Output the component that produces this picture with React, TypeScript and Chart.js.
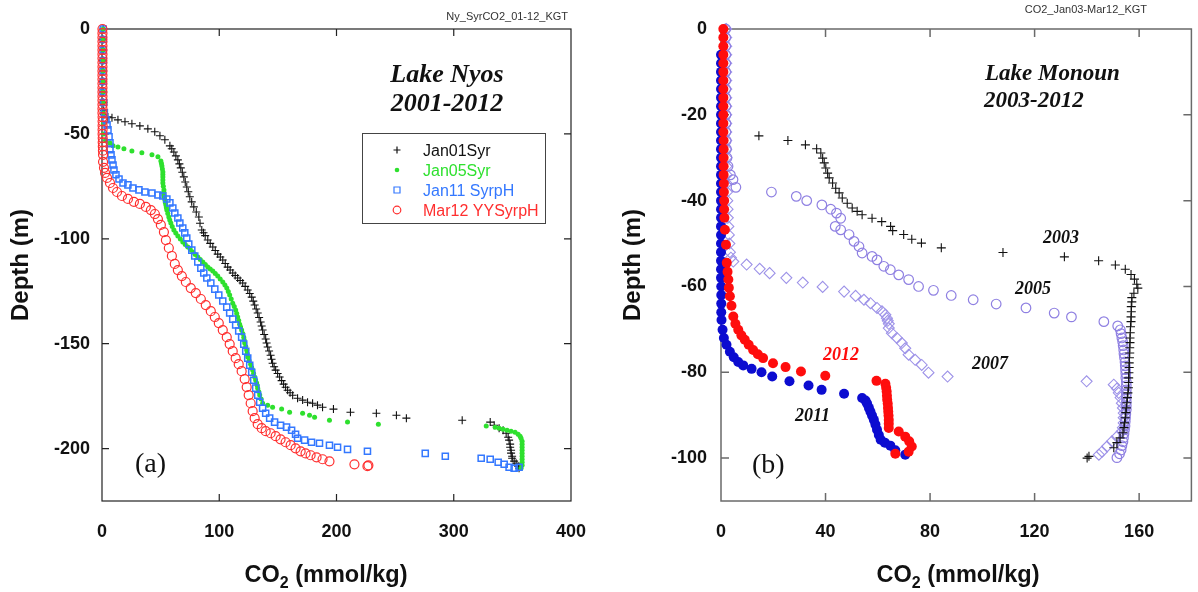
import React, { useEffect, useRef } from "react";
import { Chart, registerables } from "chart.js";

Chart.register(...registerables);

// ---------------- Panel (a): Lake Nyos ----------------
const nyosXTicks = [0, 100, 200, 300, 400];
const nyosYTicks = [0, -50, -100, -150, -200];
const nyosLegend = ["Jan01Syr", "Jan05Syr", "Jan11 SyrpH", "Mar12 YYSyrpH"];

const jan01Syr = [
  [1, 0], [1, -5], [1, -10], [1, -15], [1, -20], [1, -25], [1, -30], [1.2, -35], [1.5, -39],
  [1.7, -40.9], [5, -41.9], [8.5, -42.3], [13.6, -43.3], [19.6, -44.2], [25.5, -45.2], [32.3, -46.2],
  [39.1, -47.6], [45, -49], [49.4, -50.9], [53.6, -52.8], [57.9, -55.7], [59.5, -57.1], [61.3, -58.6],
  [63, -60.5], [64.7, -62.4], [66, -64.3], [67.2, -66.2], [68.5, -68.3], [69.8, -70.5], [71, -72.9],
  [72.3, -75.3], [73.6, -77.6], [74.9, -80], [76.5, -82.4], [78.3, -84.8], [80.4, -87.2], [82.6, -89.6],
  [83.6, -92.6], [85.1, -95.8], [86.6, -97.1], [88, -98.5], [90.2, -100.6], [92.3, -102.2], [94.5, -103.9],
  [96.6, -105.6], [98.7, -107.3], [100.9, -108.7], [103, -110.1], [105.1, -111.8], [107.2, -113.5],
  [109.3, -114.9], [111.5, -116.3], [113.6, -117.5], [115.7, -118.7], [117.8, -119.9], [120, -121.1],
  [122.1, -122.7], [124.3, -124.4], [126, -126.1], [127.7, -127.8], [129, -129.7], [130.2, -131.6],
  [131.5, -133.5], [132.8, -135.4], [134, -137.5], [135.3, -139.7], [136.2, -141.6], [137, -143.5],
  [138.3, -145.6], [139.6, -147.8], [140.4, -149.7], [141.3, -151.6], [142.5, -153.5], [143.8, -155.5],
  [144.6, -157.4], [145.5, -159.3], [146.8, -161], [148.1, -162.6], [149.8, -164.2], [151.5, -165.9],
  [153.2, -167.6], [154.9, -169.3], [156.6, -170.8], [158.3, -172.2], [160.4, -173.4], [162.6, -174.6],
  [166.8, -176], [171.1, -176.9], [175.3, -177.9], [179.6, -178.4], [183.8, -179.3], [188.1, -180.3],
  [197.4, -181.2], [211.9, -182.7], [234, -183.2], [251.1, -184.1], [259.6, -185.5], [307.2, -186.5],
  [331.1, -187.4], [334.5, -188.9], [338.7, -190.3], [342.1, -191.3], [344.7, -192.7], [346.4, -194.6],
  [347.2, -196], [348.1, -197.9], [348.1, -199.4], [348.9, -200.8], [348.9, -202.2], [349.8, -203.7],
  [349.8, -204.6], [351.5, -206], [353.2, -207], [354.9, -208.4], [355.7, -209.4],
];

const jan05Syr = [
  [1, 0], [1, -5], [1, -10], [1, -15], [1, -20], [1, -25], [1, -30], [1, -35], [1, -40], [1.2, -45],
  [1.5, -50], [3, -53], [6.8, -54.3], [9.4, -55.7], [13.6, -56.2], [18.7, -57.1], [25.5, -58.1], [34, -59],
  [42.6, -60], [47.7, -60.9], [50.2, -62.9], [50.7, -64.1], [51.1, -65.3], [51.5, -66.7], [51.9, -68.2],
  [51.9, -69.4], [51.9, -70.5], [51.9, -72], [51.9, -73.4], [52.3, -75], [52.8, -76.7], [52.8, -77.9],
  [52.8, -79.1], [53.2, -80.3], [53.6, -81.5], [54, -82.7], [54.5, -83.9], [54.9, -85.1], [55.3, -86.3],
  [56.1, -88], [57, -89.6], [57.8, -91], [58.7, -92.5], [59.9, -94.1], [61.3, -95.8], [62.9, -97.2],
  [64.7, -98.7], [66.8, -100.1], [68.9, -101.5], [71, -102.7], [73.2, -103.9], [75.3, -105.1],
  [77.4, -106.3], [79.5, -107.5], [81.7, -108.7], [83.8, -109.9], [86, -111.1], [88.1, -112.3],
  [90.2, -113.5], [92.3, -114.4], [94.5, -115.4], [96.6, -116.6], [98.7, -117.8], [100.8, -119.2],
  [103, -120.6], [104.8, -122], [106.4, -123.5], [107.7, -125.1], [108.9, -126.8], [110.2, -128.7],
  [111.5, -130.7], [112.8, -132.3], [114, -134], [114.9, -135.6], [115.7, -137.3], [116.6, -139],
  [117.4, -140.7], [118.2, -142.1], [119.1, -143.5], [120, -145.2], [120.9, -146.9], [121.3, -148.3],
  [121.7, -149.7], [122.6, -151.3], [123.4, -153], [123.8, -154.7], [124.3, -156.4], [125.5, -158.1],
  [126.8, -159.8], [127.6, -161.2], [128.5, -162.6], [129.3, -164.2], [130.2, -165.9], [131, -167.3],
  [131.9, -168.8], [132.4, -170], [132.8, -171.2], [133.6, -172.8], [134.5, -174.5], [135.7, -176.4],
  [137, -178.4], [141.3, -179.3], [145.5, -180.3], [153.2, -181.2], [160, -182.7], [171.1, -183.2],
  [177, -184.1], [181.3, -185.1], [194, -186.5], [209.4, -187.4], [235.7, -188.4], [327.7, -189.3],
  [335.3, -189.8], [338.7, -190.3], [342.1, -190.8], [345.5, -191.3], [348.9, -191.7], [352.3, -192.2],
  [354.9, -193.2], [356.6, -194.1], [357.4, -195.1], [358.3, -196.5], [358.3, -198], [358.3, -199.4],
  [358.3, -200.8], [358.3, -202.2], [358.3, -203.7], [358.3, -205.1], [358.3, -206.5], [358.3, -208],
  [357.4, -209.4],
];

const jan11SyrpH = [
  [1, 0], [1, -5], [1, -10], [1, -15], [1, -20], [1, -25], [1, -30], [1.5, -35], [2, -40],
  [3.4, -43.3], [4.3, -45.7], [5.1, -48.1], [6, -51.4], [6.8, -54.3], [6.8, -57.6], [7.7, -60], [8.5, -62.4],
  [9.4, -64.8], [10.2, -67.2], [11.9, -69.5], [14.5, -71.5], [17.9, -73.4], [22.1, -74.3], [26.4, -75.8],
  [31.5, -76.7], [36.6, -77.7], [42.6, -78.2], [47.7, -79.1], [51.9, -79.6], [55.3, -81], [57.9, -82.9],
  [60.4, -85.3], [62.1, -87.7], [64.7, -90.1], [66.4, -92.5], [68.9, -94.9], [70.6, -97.2], [72.3, -99.6],
  [74, -102.5], [76.6, -105.4], [79.1, -108.2], [81.7, -111.1], [84.3, -114], [86.8, -116.3],
  [89.4, -118.7], [92.8, -121.1], [96.2, -124], [99.6, -126.8], [103, -129.7], [106.4, -132.6],
  [108.9, -135.4], [111.5, -138.3], [114, -141.1], [116.6, -144], [119.1, -146.9], [120.9, -150.2],
  [122.6, -153.6], [124.3, -156.9], [126, -160.3], [127.7, -163.6], [129.4, -167.4], [131.1, -171.2],
  [132.8, -174.6], [134.5, -177.9], [137, -180.8], [139.6, -183.2], [143, -185.5], [147.2, -187.4],
  [152.3, -188.9], [157.4, -189.8], [161.7, -191.3], [165.1, -193.2], [166.8, -195.1], [172.8, -196],
  [178.7, -197], [185.5, -197.5], [194, -198.4], [200.9, -199.4], [209.4, -200.4], [226.4, -201.3],
  [275.7, -202.3], [292.8, -203.7], [323.4, -204.6], [331.1, -205.1], [337.9, -206.5], [343, -207.5],
  [347.2, -208.9], [351.5, -209.4], [355.7, -208.9],
];

const mar12YYSyrpH = [
  [0.4, 0], [0.4, -2], [0.4, -4], [0.4, -6], [0.4, -8], [0.4, -10], [0.4, -12], [0.4, -14], [0.4, -16],
  [0.4, -18], [0.4, -20], [0.4, -22], [0.4, -24], [0.4, -26], [0.4, -28], [0.4, -30], [0.4, -32],
  [0.4, -34], [0.4, -36], [0.4, -38], [0.4, -40], [0.5, -42], [0.5, -44], [0.5, -46], [0.5, -48],
  [0.5, -50], [0.6, -52], [0.6, -54], [0.7, -56], [0.8, -58],
  [0.9, -60], [0.9, -63.3], [1.7, -66.2], [2.6, -68.6], [4.3, -71], [6.8, -73.4], [9.4, -75.8],
  [12.8, -77.7], [17, -79.6], [22.1, -81], [27.2, -82.4], [32.3, -83.4], [37.4, -84.8], [41.7, -86.3],
  [45.1, -88.2], [47.7, -90.6], [50.2, -93.4], [52.8, -96.8], [54.5, -100.6], [57, -104.4], [59.6, -108.2],
  [62.1, -112], [64.7, -114.9], [68.1, -117.8], [71.5, -120.6], [75.7, -123.5], [80, -125.9],
  [84.3, -128.7], [88.5, -131.6], [92.8, -134.5], [96.2, -137.3], [99.6, -140.2], [103, -143.5],
  [106.4, -146.9], [108.9, -150.2], [111.5, -153.6], [114, -156.9], [116.6, -159.8], [119.1, -163.1],
  [121.7, -166.9], [123.4, -170.7], [125.1, -174.5], [126.8, -178.4], [128.5, -182.2], [130.2, -185.5],
  [132.8, -188.4], [136.2, -190.3], [139.6, -191.7], [143.8, -192.7], [148.1, -194.1], [152.3, -195.6],
  [156.6, -197], [160.9, -198.4], [165.1, -199.9], [169.4, -201.3], [173.6, -202.3], [177.9, -203.2],
  [183, -204.2], [188.1, -205.1], [194, -206.1], [215.3, -207.5], [226.4, -208.4], [227.2, -208],
];

// ---------------- Panel (b): Lake Monoun ----------------
const monounXTicks = [0, 40, 80, 120, 160];
const monounYTicks = [0, -20, -40, -60, -80, -100];

const monoun2003 = [
  [14.5, -24.9], [25.6, -26], [32.3, -27], [36.6, -27.9], [38.2, -28.9], [38.9, -30.1], [39.5, -31.2],
  [40.1, -32.4], [40.8, -33.6], [41.4, -34.7], [42.7, -35.9], [43.9, -37.1], [45.2, -38.2], [46.4, -39.4],
  [48.3, -40.6], [50.2, -41.7], [52.1, -42.5], [54, -43.3], [57.8, -44.1], [61.5, -44.9], [64.9, -46],
  [65.7, -47], [69.9, -47.9], [73, -49], [76.7, -49.9], [84.3, -51], [107.9, -52.1], [131.4, -53.1],
  [144.5, -54], [150.9, -55], [154.7, -56], [156.9, -57.2], [158.2, -58.3], [159.1, -59.5], [159.5, -60.4],
  [158, -61.6], [157.2, -62.6], [157.2, -63.6], [157, -64.7], [157, -65.9], [156.9, -67.1], [156.9, -68.2],
  [156.7, -69.4], [156.6, -70.8], [156.5, -72], [156.5, -73.1], [156.4, -74.3], [156.4, -75.5],
  [156.3, -76.6], [156.2, -77.8], [156.2, -78.9], [156.1, -80.1], [156, -81.3], [156, -82.4],
  [155.9, -83.6], [155.7, -84.8], [155.5, -85.9], [155.3, -87.1], [155.1, -88.3], [154.9, -89.4],
  [154.7, -90.6], [154.4, -91.8], [154.2, -92.9], [153.8, -94.1], [152.7, -95.3], [151.5, -96.4],
  [150.3, -97.6], [140.8, -99.6], [140.1, -100],
];

const monoun2005 = [
  [1.8, 0], [1.8, -2], [1.8, -4], [1.8, -6], [1.8, -8], [1.8, -10], [1.8, -12], [1.8, -14], [1.8, -16],
  [1.9, -18], [1.9, -20], [1.9, -22], [1.9, -24], [2, -26], [2.1, -28], [2.3, -30], [2.7, -32],
  [3.6, -34], [4.6, -35.1], [5.7, -36.9], [19.3, -38], [28.8, -39], [32.8, -40], [38.6, -41], [42, -42],
  [44.2, -42.9], [45.8, -44.1], [43.7, -46], [45.8, -46.8], [49, -47.9], [50.9, -49.5], [52.8, -50.7],
  [54, -52.2], [57.8, -53], [59.7, -53.8], [62.3, -55.3], [64.8, -56.1], [68, -57.3], [71.8, -58.4],
  [75.6, -60], [81.3, -60.9], [88.1, -62.1], [96.5, -63.1], [105.3, -64.1], [116.7, -65], [127.5, -66.2],
  [134.1, -67.1], [146.5, -68.2], [151.8, -69.2], [152.8, -70.1], [153.1, -71], [153.4, -72],
  [153.7, -72.9], [153.9, -73.8], [154.1, -74.8], [154.2, -75.7], [154.4, -76.6], [154.6, -77.6],
  [154.7, -78.5], [154.8, -79.4], [154.9, -80.3], [154.9, -81.3], [155.1, -82.2], [155.1, -83.1],
  [155.1, -84.1], [155.1, -85], [155.1, -85.9], [155.1, -86.9], [155.1, -87.8], [155.1, -88.7],
  [154.9, -89.7], [154.8, -90.6], [154.7, -91.5], [154.6, -92.5], [154.4, -93.4], [154.2, -94.3],
  [154, -95.3], [153.8, -96.2], [153.4, -97.1], [153.1, -98.1], [152.5, -99], [151.5, -99.9],
];

const monoun2007 = [
  [2, 0], [2, -2], [2, -4], [2, -6], [2, -8], [2, -10], [2, -12], [2, -14], [2, -16],
  [2, -18], [2, -20], [2, -22], [2, -24], [2, -26], [2, -28], [2.1, -30], [2.1, -32],
  [2.2, -34], [2.2, -36], [2.3, -38], [2.4, -40], [2.5, -42], [2.6, -44], [2.8, -46], [3, -48],
  [3.2, -50], [3.4, -52],
  [3.8, -53.3], [4.7, -54.2], [9.8, -54.9], [14.8, -55.9], [18.6, -56.9], [25, -58], [31.3, -59.1],
  [38.9, -60.1], [47.1, -61.2], [51.5, -62.2], [54.7, -63.1], [57.2, -63.9], [59.7, -65], [61.6, -65.8],
  [62.9, -66.6], [63.5, -67.4], [63.8, -68], [64.2, -68.7], [64.2, -69.7], [65.4, -70.9], [67.3, -72],
  [69.2, -73.2], [70.5, -74.4], [71.8, -75.9], [74.3, -77.1], [76.8, -78.3], [79.4, -80.1], [86.7, -81],
  [139.9, -82.1], [150.3, -82.9], [151.5, -83.8], [152.2, -84.8], [152.9, -85.9], [153.4, -87.2],
  [153.8, -88.3], [154.1, -89.5], [154.1, -90.6], [154.1, -91.8], [153.8, -92.9], [153.4, -93.8],
  [151.5, -95], [149.6, -96.1], [147.7, -97.3], [145.8, -98.5], [144.6, -99.2],
];

const monoun2011 = [
  [0, -6], [0, -8], [0, -10], [0, -12], [0, -14], [0, -16], [0, -18], [0, -20], [0, -22], [0, -24],
  [0, -26], [0, -28], [0, -30], [0, -32], [0, -34], [0, -36], [0, -38], [0, -40], [0, -42], [0, -44],
  [0, -46], [0, -48], [0, -50], [0, -52], [0, -54], [0, -56], [0, -58], [0.1, -60], [0.1, -62],
  [0.1, -64], [0.1, -66],
  [0.2, -67.8], [0.6, -70.1], [1.1, -72], [2.1, -73.6], [3.4, -75.2], [4.9, -76.5], [6.6, -77.6],
  [8.5, -78.4], [11.7, -79.2], [15.5, -80], [19.6, -81], [26.2, -82.1], [33.5, -83.1], [38.5, -84.1],
  [47.1, -85], [54, -86], [55.3, -86.6], [55.9, -87.3], [56.6, -88.3], [57.2, -89.2], [57.8, -90.1],
  [58.5, -91.1], [59.1, -92.2], [59.7, -93.4], [60.4, -94.6], [61.1, -95.7], [62.7, -96.4],
  [64.8, -97.1], [66.7, -98.2], [70.5, -99.2],
];

const monoun2012 = [
  [0.9, 0], [0.9, -2], [0.9, -4], [0.9, -6], [0.9, -8], [0.9, -10], [0.9, -12], [0.9, -14], [0.9, -16],
  [0.9, -18], [0.9, -20], [0.9, -22], [0.9, -24], [1, -26], [1, -28], [1, -30], [1, -32], [1, -34],
  [1.1, -36], [1.1, -38], [1.2, -40], [1.2, -42], [1.3, -44],
  [1.5, -46.8], [1.9, -50.3], [2.2, -54.5], [2.5, -56.6], [2.8, -58.4], [3, -60.3], [3.4, -62.3],
  [4, -64.5], [4.7, -67], [5.5, -68.7], [6.6, -70.1], [7.8, -71.4], [9.1, -72.4], [10.6, -73.6],
  [12.3, -74.8], [14.1, -75.8], [16.1, -76.7], [19.9, -77.9], [24.7, -78.8], [30.6, -79.8], [39.9, -80.8],
  [59.5, -82], [62.9, -82.7], [63.2, -83.6], [63.4, -84.5], [63.5, -85.5], [63.6, -86.4], [63.8, -87.3],
  [63.9, -88.3], [64, -89.2], [64.1, -90.1], [64.2, -91.1], [64.2, -92], [64.2, -93], [68, -93.8],
  [70.5, -95], [72, -96.1], [73, -97.3], [71.8, -98.5], [66.7, -99],
];

// ---------------- helpers ----------------
const SANS = '"Liberation Sans", Arial, Helvetica, sans-serif';
const SERIF = '"Liberation Serif", "Times New Roman", serif';

const toPts = (arr: number[][]) => arr.map(([x, y]) => ({ x, y }));

function drawCO2Title(ctx: CanvasRenderingContext2D, cx: number, baseline: number) {
  const big = `bold 23.5px ${SANS}`;
  const small = `bold 16px ${SANS}`;
  ctx.font = big;
  const w1 = ctx.measureText("CO").width;
  const w3 = ctx.measureText(" (mmol/kg)").width;
  ctx.font = small;
  const w2 = ctx.measureText("2").width;
  let x = cx - (w1 + w2 + w3) / 2;
  ctx.fillStyle = "#111";
  ctx.textAlign = "left";
  ctx.textBaseline = "alphabetic";
  ctx.font = big;
  ctx.fillText("CO", x, baseline);
  x += w1;
  ctx.font = small;
  ctx.fillText("2", x, baseline + 6);
  x += w2;
  ctx.font = big;
  ctx.fillText(" (mmol/kg)", x, baseline);
}

function drawDepthTitle(ctx: CanvasRenderingContext2D, cx: number, cy: number) {
  ctx.save();
  ctx.translate(cx, cy);
  ctx.rotate(-Math.PI / 2);
  ctx.font = `bold 24px ${SANS}`;
  ctx.fillStyle = "#111";
  ctx.textAlign = "center";
  ctx.textBaseline = "middle";
  ctx.fillText("Depth (m)", 0, 0);
  ctx.restore();
}

function text(ctx: CanvasRenderingContext2D, s: string, x: number, y: number, font: string, color: string, align: CanvasTextAlign = "left") {
  ctx.font = font;
  ctx.fillStyle = color;
  ctx.textAlign = align;
  ctx.textBaseline = "alphabetic";
  ctx.fillText(s, x, y);
}

function makeDecor(cfg: any) {
  return {
    id: "decor",
    beforeDatasetsDraw(chart: any) {
      const { ctx, chartArea: a, scales } = chart;
      ctx.save();
      ctx.strokeStyle = cfg.frameColor;
      ctx.lineWidth = cfg.frameWidth;
      ctx.strokeRect(a.left, a.top, a.right - a.left, a.bottom - a.top);
      ctx.beginPath();
      const L = cfg.tickLen;
      for (const v of cfg.xTicks) {
        const p = scales.x.getPixelForValue(v);
        ctx.moveTo(p, a.top);
        ctx.lineTo(p, a.top + L);
        ctx.moveTo(p, a.bottom);
        ctx.lineTo(p, a.bottom - L);
      }
      for (const v of cfg.yTicks) {
        const p = scales.y.getPixelForValue(v);
        ctx.moveTo(a.left, p);
        ctx.lineTo(a.left + L, p);
        ctx.moveTo(a.right, p);
        ctx.lineTo(a.right - L, p);
      }
      ctx.stroke();
      ctx.restore();
    },
    afterDraw(chart: any) {
      const ctx = chart.ctx;
      ctx.save();
      cfg.draw(ctx, chart);
      ctx.restore();
    },
  };
}

function baseOptions(xMin: number, xMax: number, yMin: number, yMax: number, xTicks: number[], yTicks: number[], yWidth: number, pad: any, yPad: number) {
  const tickFont = { family: SANS, size: 18, weight: "bold" as const };
  return {
    animation: false as const,
    responsive: false,
    devicePixelRatio: 1,
    layout: { padding: pad },
    plugins: { legend: { display: false }, tooltip: { enabled: false } },
    events: [],
    scales: {
      x: {
        type: "linear" as const,
        min: xMin,
        max: xMax,
        afterBuildTicks: (s: any) => { s.ticks = xTicks.map((v) => ({ value: v })); },
        afterFit: (s: any) => { s.height = 91; s.paddingLeft = 0; s.paddingRight = 0; },
        grid: { display: false, drawTicks: false },
        border: { display: false },
        ticks: { font: tickFont, color: "#111", padding: 20, maxRotation: 0, autoSkip: false },
      },
      y: {
        type: "linear" as const,
        min: yMin,
        max: yMax,
        afterBuildTicks: (s: any) => { s.ticks = yTicks.map((v) => ({ value: v })); },
        afterFit: (s: any) => { s.width = yWidth; s.paddingTop = 0; s.paddingBottom = 0; },
        grid: { display: false, drawTicks: false },
        border: { display: false },
        ticks: { font: tickFont, color: "#111", padding: yPad, autoSkip: false },
      },
    },
  };
}

const NY_BLACK = "#111111";
const NY_GREEN = "#2ee02e";
const NY_BLUE = "#3478ff";
const NY_RED = "#ff2f2f";
const MO_PURPLE = "#8f80e2";
const MO_PURPLE2 = "#9d92e8";
const MO_BLUE = "#0c0cd0";
const MO_RED = "#ff0d0d";

export default function App() {
  const leftRef = useRef<HTMLCanvasElement | null>(null);
  const rightRef = useRef<HTMLCanvasElement | null>(null);

  useEffect(() => {
    const leftDecor = makeDecor({
      frameColor: "#222",
      frameWidth: 1.2,
      tickLen: 7,
      xTicks: [100, 200, 300],
      yTicks: [-50, -100, -150, -200],
      draw: (ctx: CanvasRenderingContext2D) => {
        text(ctx, "Ny_SyrCO2_01-12_KGT", 568, 20, `11px ${SANS}`, "#333", "right");
        text(ctx, "Lake Nyos", 447, 82, `bold italic 26px ${SERIF}`, "#111", "center");
        text(ctx, "2001-2012", 447, 111, `bold italic 26px ${SERIF}`, "#111", "center");
        text(ctx, "(a)", 135, 472, `28px ${SERIF}`, "#111", "left");
        drawDepthTitle(ctx, 21, 265);
        drawCO2Title(ctx, 326, 582);
        // legend
        ctx.strokeStyle = "#444";
        ctx.lineWidth = 1;
        ctx.strokeRect(362.5, 133.5, 183, 90);
        const colors = [NY_BLACK, NY_GREEN, NY_BLUE, NY_RED];
        nyosLegend.forEach((lab, i) => {
          const y = 150 + i * 20;
          const mx = 397;
          ctx.lineWidth = 1.2;
          ctx.strokeStyle = colors[i];
          ctx.fillStyle = colors[i];
          ctx.beginPath();
          if (i === 0) {
            ctx.moveTo(mx - 3.5, y); ctx.lineTo(mx + 3.5, y);
            ctx.moveTo(mx, y - 3.5); ctx.lineTo(mx, y + 3.5);
            ctx.stroke();
          } else if (i === 1) {
            ctx.arc(mx, y, 2.3, 0, Math.PI * 2);
            ctx.fill();
          } else if (i === 2) {
            ctx.rect(mx - 3, y - 3, 6, 6);
            ctx.stroke();
          } else {
            ctx.arc(mx, y, 3.8, 0, Math.PI * 2);
            ctx.stroke();
          }
          text(ctx, lab, 423, y + 6, `16px ${SANS}`, colors[i], "left");
        });
      },
    });

    const rightDecor = makeDecor({
      frameColor: "#6a6a6a",
      frameWidth: 1.5,
      tickLen: 8,
      xTicks: [40, 80, 120, 160],
      yTicks: [-20, -40, -60, -80, -100],
      draw: (ctx: CanvasRenderingContext2D) => {
        text(ctx, "CO2_Jan03-Mar12_KGT", 547, 13, `11px ${SANS}`, "#333", "right");
        text(ctx, "Lake Monoun", 385, 80, `bold italic 23px ${SERIF}`, "#111", "left");
        text(ctx, "2003-2012", 384, 107, `bold italic 23px ${SERIF}`, "#111", "left");
        text(ctx, "(b)", 152, 473, `28px ${SERIF}`, "#111", "left");
        const lf = `bold italic 18px ${SERIF}`;
        text(ctx, "2003", 443, 243, lf, "#111");
        text(ctx, "2005", 415, 294, lf, "#111");
        text(ctx, "2007", 372, 369, lf, "#111");
        text(ctx, "2012", 223, 360, lf, MO_RED);
        text(ctx, "2011", 195, 421, lf, "#111");
        drawDepthTitle(ctx, 33, 265);
        drawCO2Title(ctx, 358, 582);
      },
    });

    const left = new Chart(leftRef.current as HTMLCanvasElement, {
      type: "scatter",
      data: {
        datasets: [
          { label: nyosLegend[3], data: toPts(mar12YYSyrpH), pointStyle: "circle", pointRadius: 4.5, pointBorderWidth: 1.2, pointBorderColor: NY_RED, pointBackgroundColor: "rgba(255,255,255,0)", clip: false },
          { label: nyosLegend[2], data: toPts(jan11SyrpH), pointStyle: "rect", pointRadius: 4.3, pointBorderWidth: 1.5, pointBorderColor: NY_BLUE, pointBackgroundColor: "rgba(255,255,255,0)", clip: false },
          { label: nyosLegend[1], data: toPts(jan05Syr), pointStyle: "circle", pointRadius: 2.5, pointBorderWidth: 0, pointBorderColor: NY_GREEN, pointBackgroundColor: NY_GREEN, clip: false },
          { label: nyosLegend[0], data: toPts(jan01Syr), pointStyle: "cross", pointRadius: 4, pointBorderWidth: 1.1, pointBorderColor: NY_BLACK, pointBackgroundColor: NY_BLACK, clip: false },
        ] as any,
      },
      options: baseOptions(0, 400, -225, 0, nyosXTicks, nyosYTicks, 102, { top: 29, right: 29, left: 0, bottom: 0 }, 12) as any,
      plugins: [leftDecor],
    });

    const right = new Chart(rightRef.current as HTMLCanvasElement, {
      type: "scatter",
      data: {
        datasets: [
          { label: "2012", data: toPts(monoun2012), pointStyle: "circle", pointRadius: 5, pointBorderWidth: 0, pointBorderColor: MO_RED, pointBackgroundColor: MO_RED, clip: false },
          { label: "2011", data: toPts(monoun2011), pointStyle: "circle", pointRadius: 5, pointBorderWidth: 0, pointBorderColor: MO_BLUE, pointBackgroundColor: MO_BLUE, clip: false },
          { label: "2003", data: toPts(monoun2003), pointStyle: "cross", pointRadius: 4.5, pointBorderWidth: 1.1, pointBorderColor: "#111", pointBackgroundColor: "#111", clip: false },
          { label: "2005", data: toPts(monoun2005), pointStyle: "circle", pointRadius: 4.8, pointBorderWidth: 1.2, pointBorderColor: MO_PURPLE, pointBackgroundColor: "rgba(255,255,255,0)", clip: false },
          { label: "2007", data: toPts(monoun2007), pointStyle: "rectRot", pointRadius: 5.5, pointBorderWidth: 1.1, pointBorderColor: MO_PURPLE2, pointBackgroundColor: "rgba(255,255,255,0)", clip: false },
        ] as any,
      },
      options: baseOptions(0, 180, -110, 0, monounXTicks, monounYTicks, 121, { top: 29, right: 3, left: 0, bottom: 0 }, 14) as any,
      plugins: [rightDecor],
    });

    return () => {
      left.destroy();
      right.destroy();
    };
  }, []);

  return (
    <div style={{ position: "absolute", left: 0, top: 0, width: 1198, height: 592, background: "#fff", overflow: "hidden" }}>
      <canvas ref={leftRef} width={600} height={592} style={{ position: "absolute", left: 0, top: 0, width: 600, height: 592 }} />
      <canvas ref={rightRef} width={598} height={592} style={{ position: "absolute", left: 600, top: 0, width: 598, height: 592 }} />
    </div>
  );
}
